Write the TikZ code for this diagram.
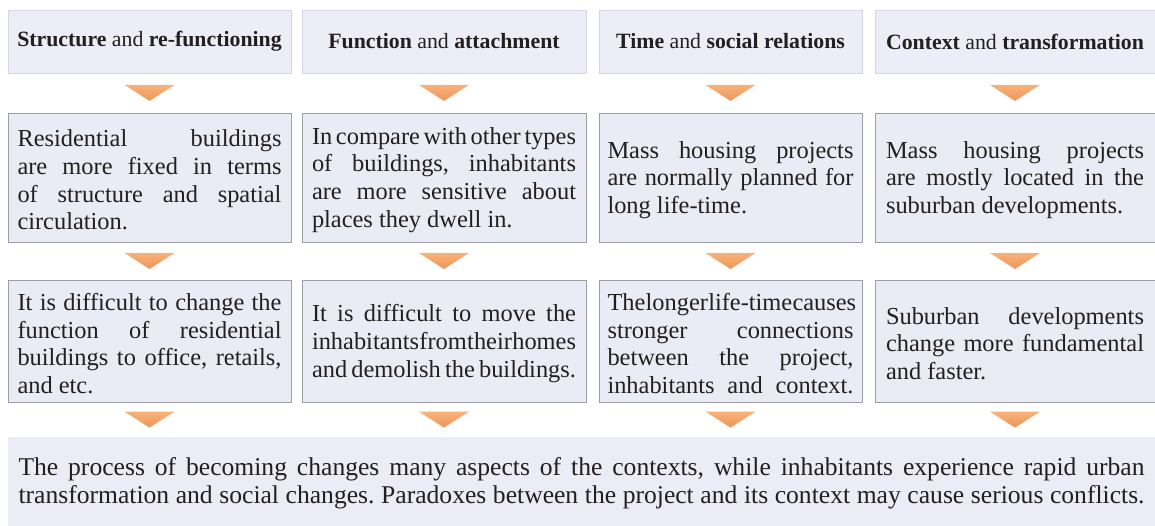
\documentclass[tikz,border=0pt]{standalone}
\usepackage{fontspec}
\setmainfont{Liberation Serif}
\usetikzlibrary{calc}

\definecolor{ink}{RGB}{35,31,32}
\definecolor{headfill}{RGB}{236,237,246}
\definecolor{headline}{RGB}{214,215,224}
\definecolor{cellfill}{RGB}{233,235,245}
\definecolor{cellline}{RGB}{158,158,168}
\definecolor{basefill}{RGB}{235,236,245}
\definecolor{tritop}{RGB}{247,178,122}
\definecolor{tribot}{RGB}{238,150,88}

% one justified line, one tightly set line, and a closing (ragged) line
\newcommand{\jl}[1]{\hbox to \linewidth{\spaceskip=.25em plus 1fil minus .2em\relax #1}}
\newcommand{\tl}[1]{\hbox to \linewidth{\spaceskip=.01em plus 1fil\relax #1}}
\newcommand{\el}[1]{\hbox to \linewidth{\spaceskip=.25em minus .15em\relax #1\hfil}}
\newcommand{\cell}[2]{\parbox{#1}{\frenchspacing\fontsize{24.4pt}{27.7pt}\selectfont\vspace*{5pt}#2}}
\newcommand{\wide}[2]{\parbox{#1}{\frenchspacing\fontsize{25.6pt}{28pt}\selectfont\vspace*{4pt}#2}}

% downward orange marker in the gap between two stacked boxes
\newcommand{\flowtri}[2]{%
  \path[trimark] let \p1=(#1.south), \p2=(#2.north), \n1={(\y1+\y2)/2} in
    (\x1-25pt,\n1+8pt) -- (\x1+25pt,\n1+8pt) -- (\x1,\n1-8pt) -- cycle;}

\tikzset{
  headbox/.style={fill=headfill, draw=headline, line width=0.6pt, inner sep=0pt,
    text=ink, font=\fontsize{21.8pt}{26pt}\selectfont},
  cellbox/.style={fill=cellfill, draw=cellline, line width=0.9pt, inner sep=0pt, text=ink},
  basebox/.style={fill=basefill, draw=none, inner sep=0pt, text=ink},
  trimark/.style={top color=tritop, bottom color=tribot, draw=none}
}

\begin{document}
\begin{tikzpicture}[x=1pt,y=-1pt]
\useasboundingbox (0,0) rectangle (1155,526);
\fill[white] (0,0) rectangle (1155,526);

% column headings
\node[headbox, minimum width=283pt, minimum height=63pt] (h1) at (149.5,41.5)
  {\textbf{Structure} and \textbf{re-functioning}};
\node[headbox, minimum width=284pt, minimum height=63pt] (h2) at (444,41.5)
  {\textbf{Function} and \textbf{attachment}};
\node[headbox, minimum width=263pt, minimum height=63pt] (h3) at (730.5,41.5)
  {\textbf{Time} and \textbf{social relations}};
\node[headbox, minimum width=280pt, minimum height=63pt] (h4) at (1015,41.5)
  {\textbf{Context} and \textbf{transformation}};

% first row of statements
\node[cellbox, minimum width=283pt, minimum height=129pt] (a1) at (149.5,177.5)
  {\cell{264pt}{\jl{Residential buildings}\jl{are more fixed in terms}\jl{of structure and spatial}\el{circulation.}}};
\node[cellbox, minimum width=284pt, minimum height=129pt] (a2) at (444,177.5)
  {\cell{264pt}{\tl{In compare with other types}\jl{of buildings, inhabitants}\jl{are more sensitive about}\el{places they dwell in.}}};
\node[cellbox, minimum width=263pt, minimum height=129pt] (a3) at (730.5,177.5)
  {\cell{246pt}{\jl{Mass housing projects}\jl{are normally planned for}\el{long life-time.}}};
\node[cellbox, minimum width=280pt, minimum height=129pt] (a4) at (1015,177.5)
  {\cell{258pt}{\jl{Mass housing projects}\jl{are mostly located in the}\el{suburban developments.}}};

% second row of statements
\node[cellbox, minimum width=283pt, minimum height=122pt] (b1) at (149.5,341)
  {\cell{264pt}{\jl{It is difficult to change the}\jl{function of residential}\jl{buildings to office, retails,}\el{and etc.}}};
\node[cellbox, minimum width=284pt, minimum height=122pt] (b2) at (444,341)
  {\cell{264pt}{\jl{It is difficult to move the}\tl{inhabitants from their homes}\el{and demolish the buildings.}}};
\node[cellbox, minimum width=263pt, minimum height=122pt] (b3) at (730.5,341)
  {\cell{246pt}{\tl{The longer life-time causes}\jl{stronger connections}\jl{between the project,}\jl{inhabitants and context.}}};
\node[cellbox, minimum width=280pt, minimum height=122pt] (b4) at (1015,341)
  {\cell{258pt}{\jl{Suburban developments}\jl{change more fundamental}\el{and faster.}}};

% concluding statement
\node[basebox, minimum width=1147pt, minimum height=89pt] (z) at (581.5,481.5)
  {\wide{1126pt}{\jl{The process of becoming changes many aspects of the contexts, while inhabitants experience rapid urban}\jl{transformation and social changes. Paradoxes between the project and its context may cause serious conflicts.}}};

% flow markers
\flowtri{h1}{a1} \flowtri{h2}{a2} \flowtri{h3}{a3} \flowtri{h4}{a4}
\flowtri{a1}{b1} \flowtri{a2}{b2} \flowtri{a3}{b3} \flowtri{a4}{b4}
\flowtri{b1}{z}  \flowtri{b2}{z}  \flowtri{b3}{z}  \flowtri{b4}{z}
\end{tikzpicture}
\end{document}
